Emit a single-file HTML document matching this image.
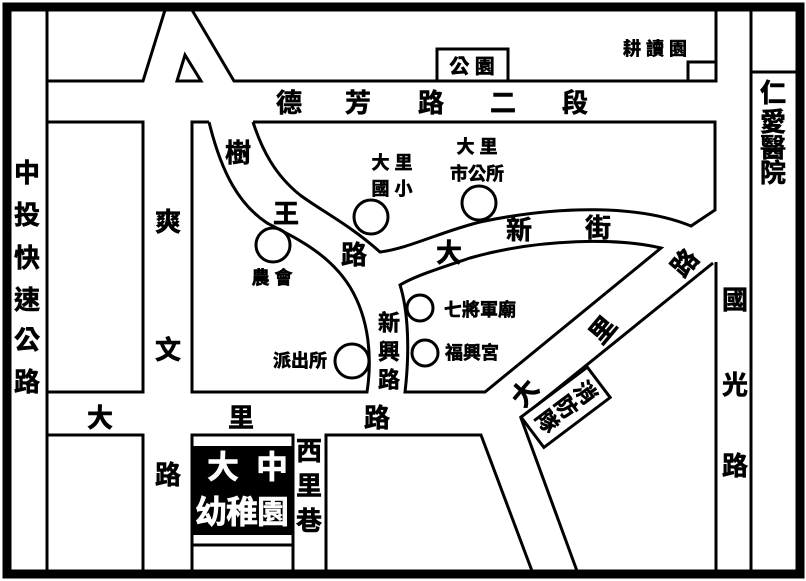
<!DOCTYPE html>
<html><head><meta charset="utf-8"><style>
html,body{margin:0;padding:0;background:#fff;}
svg{display:block;}
text{font-family:"Liberation Sans","Noto Sans CJK TC","WenQuanYi Zen Hei",sans-serif;font-weight:bold;fill:#000;stroke:#000;stroke-width:0.6;text-anchor:middle;dominant-baseline:central;}
</style></head><body>
<svg width="806" height="581" viewBox="0 0 806 581" xmlns="http://www.w3.org/2000/svg">
<rect x="0" y="0" width="806" height="581" fill="#fff"/>
<rect x="7" y="7" width="793" height="567" fill="none" stroke="#000" stroke-width="9"/>
<g fill="none" stroke="#000" stroke-width="3" stroke-linejoin="miter">
<line x1="47" y1="10" x2="47" y2="571"/>
<polyline points="48,81 143,81 165,10"/>
<polyline points="192,10 234,81 716,81 716,10"/>
<polygon points="185,55 177,81 201,81"/>
<rect x="437" y="49" width="71" height="32"/>
<polyline points="688,81 688,62 716,62"/>
<line x1="751" y1="10" x2="751" y2="571"/>
<line x1="751" y1="72" x2="797" y2="72"/>
<line x1="716" y1="262" x2="716" y2="571"/>
<polyline points="48,122 143,122 143,392 48,392"/>
<polyline points="48,435 143,435 143,571"/>
<path d="M209,122 L192,122 L192,392 L367,392 C372,360 370,320 350,287 C330,255 300,240 267,223 C240,205 222,175 209,122"/>
<path d="M253,122 L715,122 L715,210 L691,226 C640,205 560,205 480,222 C440,232 410,248 380,252 C350,225 320,210 300,195 C275,175 262,150 253,122"/>
<path d="M661,248 C620,238 540,238 470,258 C440,268 415,276 400,285 C408,310 410,350 405,392 L485,392 Z"/>
<polyline points="713,263 521,418 577,571"/>
<polyline points="326,571 326,435 481,435 532,571"/>
<polyline points="192,571 192,435 293,435 293,571"/>
<line x1="192" y1="545" x2="293" y2="545"/>
<circle cx="371" cy="217" r="17"/>
<circle cx="479" cy="203" r="17"/>
<circle cx="273" cy="245" r="17"/>
<circle cx="352" cy="361" r="17"/>
<circle cx="420" cy="308" r="13"/>
<circle cx="425" cy="353" r="13"/>
</g>
<rect x="192" y="446" width="101" height="89" fill="#000"/>
<text x="223" y="467" font-size="32" style="fill:#fff;stroke:#fff">大</text>
<text x="272" y="467" font-size="32" style="fill:#fff;stroke:#fff">中</text>
<text x="242" y="512" font-size="32" style="fill:#fff;stroke:#fff" textLength="94">幼稚園</text>

<g font-size="26">
<text x="27" y="173">中</text><text x="27" y="215">投</text><text x="27" y="258">快</text>
<text x="27" y="300">速</text><text x="27" y="340">公</text><text x="27" y="382">路</text>
<text x="289" y="103">德</text><text x="358" y="103">芳</text><text x="431" y="103">路</text>
<text x="503" y="103">二</text><text x="575" y="103">段</text>
<text x="168" y="222">爽</text><text x="168" y="350">文</text><text x="168" y="475">路</text>
<text x="100" y="418">大</text><text x="241" y="418">里</text><text x="377" y="418">路</text>
<text x="238" y="153">樹</text><text x="286" y="214">王</text><text x="354" y="255">路</text>
<text x="449" y="253">大</text><text x="519" y="230">新</text><text x="598" y="228">街</text>
<text x="735" y="300">國</text><text x="735" y="385">光</text><text x="735" y="466">路</text>
<text x="773" y="93">仁</text><text x="773" y="122">愛</text><text x="773" y="148">醫</text><text x="773" y="173">院</text>
<text x="309" y="451">西</text><text x="309" y="486">里</text><text x="309" y="521">巷</text>
<text transform="translate(525,393) rotate(-50)">大</text>
<text transform="translate(603,330) rotate(-50)">里</text>
<text transform="translate(685,263) rotate(-50)">路</text>
</g>
<g font-size="18">
<text x="392" y="163">大 里</text><text x="392" y="189">國 小</text>
<text x="477" y="147">大 里</text><text x="477" y="174">市公所</text>
<text x="272" y="278">農 會</text>
<text x="300" y="361">派出所</text>
<text x="480" y="310">七將軍廟</text>
<text x="472" y="353">福興宮</text>
<text x="389" y="323" font-size="22">新</text><text x="389" y="352" font-size="22">興</text><text x="389" y="380" font-size="22">路</text>
<text x="472" y="67" font-size="20">公 園</text>
<text x="655" y="49" font-size="18">耕 讀 園</text>
</g>
<g transform="translate(566,407) rotate(53)">
<rect x="-19" y="-41" width="38" height="83" fill="#fff" stroke="#000" stroke-width="3"/>
<text x="0" y="-24" font-size="22">消</text>
<text x="0" y="0" font-size="22">防</text>
<text x="0" y="24" font-size="22">隊</text>
</g>
</svg>
</body></html>
